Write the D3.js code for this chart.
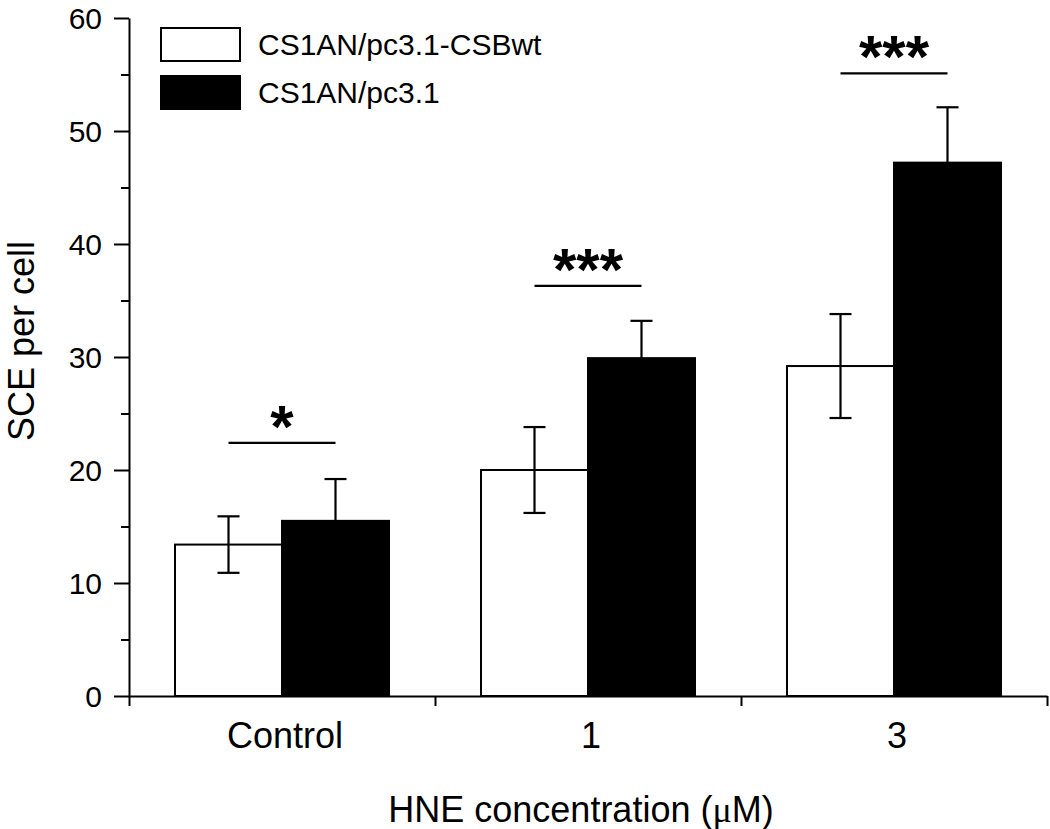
<!DOCTYPE html>
<html>
<head>
<meta charset="utf-8">
<script src="https://cdn.jsdelivr.net/npm/d3@7"></script>
<style>
  body { margin: 0; background: #fff; }
  text { font-family: "Liberation Sans", Arial, sans-serif; fill: #000; }
</style>
</head>
<body>
<div id="chart"></div>
<script>
(function() {
  var width = 1050,
    height = 829;

  var categories = ["Control", "1", "3"]
  var seriesNames = ["CS1AN/pc3.1-CSBwt", "CS1AN/pc3.1"]
  var wtValues = [13.4, 20.0, 29.2]
  var wtErrors = [2.5, 3.8, 4.6]
  var pcValues = [15.5, 29.9, 47.2]
  var pcErrors = [3.7, 3.3, 4.9]
  var sigMarks = ["*", "***", "***"]
  var sigLevels = [22.4, 36.3, 55.1]
  var yTicks = [0, 10, 20, 30, 40, 50, 60]
  var yMinorTicks = [5, 15, 25, 35, 45, 55]

  var svg = d3.select("#chart")
    .append("svg")
    .attr("width", width)
    .attr("height", height)

  svg.append("rect")
    .attr("width", width)
    .attr("height", height)
    .attr("fill", "#fff")

  var x0 = 129, x1 = 1047, yBottom = 696, yTop = 18

  var yScale = d3.scaleLinear().domain([0, 60]).range([yBottom, yTop])
  var xGroup = d3.scaleBand().domain(categories).range([x0, x1]).padding(0)
  var xBar = d3.scaleBand().domain(seriesNames).range([0, xGroup.bandwidth()])
    .paddingInner(0).paddingOuter(0.43)
  var xEdges = d3.scaleLinear().domain([0, categories.length]).range([x0, x1])

  var rows = []
  categories.forEach(function(c, i) {
    rows.push({ cat: c, series: seriesNames[0], value: wtValues[i], err: wtErrors[i], fill: "#fff" })
    rows.push({ cat: c, series: seriesNames[1], value: pcValues[i], err: pcErrors[i], fill: "#000" })
  })

  // bars
  svg.selectAll(".bar")
    .data(rows)
    .enter().append("rect")
    .attr("class", "bar")
    .attr("x", function(d) { return xGroup(d.cat) + xBar(d.series) })
    .attr("y", function(d) { return yScale(d.value) })
    .attr("width", xBar.bandwidth())
    .attr("height", function(d) { return yBottom - yScale(d.value) })
    .attr("fill", function(d) { return d.fill })
    .attr("stroke", "#000")
    .attr("stroke-width", 2)

  // error bars (black bars only show the upper half)
  var cap = 11
  function cx(d) { return xGroup(d.cat) + xBar(d.series) + xBar.bandwidth() / 2 }

  var eb = svg.selectAll(".err")
    .data(rows)
    .enter().append("g")
    .attr("class", "err")
    .attr("stroke", "#000")
    .attr("stroke-width", 2.2)

  eb.append("line")
    .attr("x1", cx).attr("x2", cx)
    .attr("y1", function(d) { return yScale(d.value + d.err) })
    .attr("y2", function(d) { return d.fill === "#000" ? yScale(d.value) : yScale(d.value - d.err) })

  eb.append("line")
    .attr("x1", function(d) { return cx(d) - cap }).attr("x2", function(d) { return cx(d) + cap })
    .attr("y1", function(d) { return yScale(d.value + d.err) })
    .attr("y2", function(d) { return yScale(d.value + d.err) })

  eb.filter(function(d) { return d.fill !== "#000" })
    .append("line")
    .attr("x1", function(d) { return cx(d) - cap }).attr("x2", function(d) { return cx(d) + cap })
    .attr("y1", function(d) { return yScale(d.value - d.err) })
    .attr("y2", function(d) { return yScale(d.value - d.err) })

  // significance lines and stars
  svg.selectAll(".sigline")
    .data(categories)
    .enter().append("line")
    .attr("class", "sigline")
    .attr("x1", function(d) { return xGroup(d) + xBar(seriesNames[0]) + xBar.bandwidth() / 2 })
    .attr("x2", function(d) { return xGroup(d) + xBar(seriesNames[1]) + xBar.bandwidth() / 2 })
    .attr("y1", function(d, i) { return yScale(sigLevels[i]) })
    .attr("y2", function(d, i) { return yScale(sigLevels[i]) })
    .attr("stroke", "#000")
    .attr("stroke-width", 2.2)

  svg.selectAll(".sigtext")
    .data(categories)
    .enter().append("text")
    .attr("class", "sigtext")
    .attr("x", function(d) { return xGroup(d) + xGroup.bandwidth() / 2 })
    .attr("y", function(d, i) { return yScale(sigLevels[i]) + 4 })
    .style("font-size", "60px")
    .style("font-weight", "bold")
    .style("text-anchor", "middle")
    .text(function(d, i) { return sigMarks[i] })

  // y axis
  var yAxis = svg.append("g")
    .attr("transform", "translate(" + x0 + ",0)")
    .call(d3.axisLeft(yScale).tickValues(yTicks).tickSize(15).tickPadding(12).tickSizeOuter(0))
  yAxis.selectAll("text").style("font-size", "30px").attr("dy", "0.35em")
  yAxis.select(".domain").attr("stroke-width", 2)
  yAxis.selectAll(".tick line").attr("stroke-width", 2)

  var yMinor = svg.append("g")
    .attr("transform", "translate(" + x0 + ",0)")
    .call(d3.axisLeft(yScale).tickValues(yMinorTicks).tickSize(8).tickFormat("").tickSizeOuter(0))
  yMinor.select(".domain").remove()
  yMinor.selectAll(".tick line").attr("stroke-width", 2)

  // x axis
  var xAxis = svg.append("g")
    .attr("transform", "translate(0," + yBottom + ")")
    .call(d3.axisBottom(xEdges).ticks(categories.length).tickSize(10).tickFormat("").tickSizeOuter(0))
  xAxis.select(".domain").attr("stroke-width", 2)
  xAxis.selectAll(".tick line").attr("stroke-width", 2)

  svg.selectAll(".cattext")
    .data(categories)
    .enter().append("text")
    .attr("class", "cattext")
    .attr("x", function(d) { return xGroup(d) + xGroup.bandwidth() / 2 + 3 })
    .attr("y", 748)
    .style("font-size", "36px")
    .style("text-anchor", "middle")
    .text(function(d) { return d })

  // axis titles
  var xTitle = svg.append("text")
    .attr("x", 581)
    .attr("y", 822)
    .style("font-size", "36px")
    .style("text-anchor", "middle")
  xTitle.append("tspan").text("HNE concentration (")
  xTitle.append("tspan").style("font-family", "'Liberation Serif', serif").text("\u03bc")
  xTitle.append("tspan").text("M)")

  svg.append("text")
    .attr("transform", "translate(34,341) rotate(-90)")
    .style("font-size", "36px")
    .style("text-anchor", "middle")
    .text("SCE per cell")

  // legend
  var legend = svg.selectAll(".legend")
    .data(seriesNames)
    .enter().append("g")
    .attr("class", "legend")
    .attr("transform", function(d, i) { return "translate(161," + (28 + i * 48) + ")" })

  legend.append("rect")
    .attr("width", 79)
    .attr("height", 33)
    .attr("fill", function(d, i) { return i === 0 ? "#fff" : "#000" })
    .attr("stroke", "#000")
    .attr("stroke-width", 2)

  legend.append("text")
    .attr("x", 97)
    .attr("y", 27)
    .style("font-size", "30px")
    .text(function(d) { return d })
})();
</script>
</body>
</html>
